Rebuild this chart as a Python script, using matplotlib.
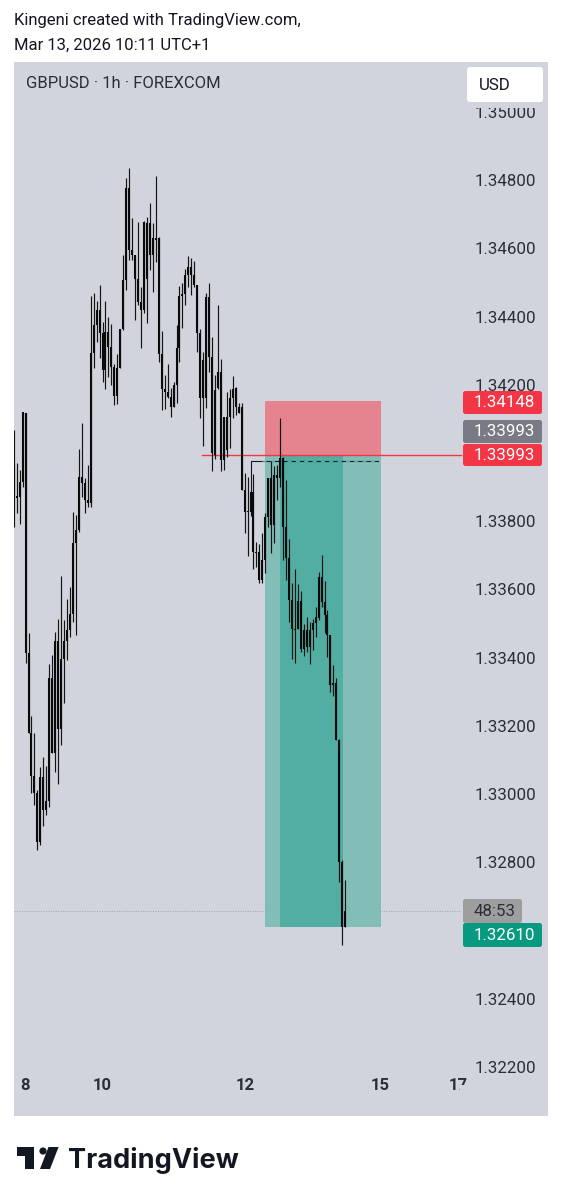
import numpy as np
import matplotlib
matplotlib.use('Agg')
import matplotlib.pyplot as plt
from matplotlib.patches import Rectangle, FancyBboxPatch, Polygon, Circle

plt.rcParams['font.family'] = ['Roboto', 'DejaVu Sans']

# GBPUSD 1h, precios en unidades de 0.00001
opens = [133964,133873,133870,133914,134117,133413,133178,133052,133002,132859,133049,132953,132979,133340,133120,133448,133190,133395,133448,133480,
         133527,133736,133774,133929,133911,133862,133853,134293,134375,134419,134351,134243,134354,134310,134252,134167,134249,134363,134507,134777,
         134595,134580,134510,134442,134419,134674,134674,134580,134630,134630,134290,134187,134178,134164,134134,134199,134307,134460,134466,134522,
         134545,134522,134492,134351,134161,134161,134457,134281,133994,134190,134237,133979,134105,134105,134161,134190,134134,134134,133891,133827,
         133827,133885,133709,133709,133627,133686,133812,133926,133788,133935,133926,133985,133782,133692,133568,133483,133483,133565,133425,133480,
         133431,133480,133501,133516,133636,133563,133524,133466,133319,133325,133158,132800,132610]
highs = [134067,133970,133950,134120,134117,133472,133228,133178,133011,133079,133108,133082,133381,133407,133475,133513,133639,133510,133571,133607,
         133827,133818,134011,134088,133926,133964,134460,134469,134445,134492,134384,134445,134398,134378,134260,134290,134363,134580,134806,134835,
         134689,134580,134677,134486,134680,134692,134733,134674,134812,134633,134357,134228,134260,134190,134208,134375,134489,134498,134539,134577,
         134571,134563,134492,134363,134296,134469,134498,134340,134228,134434,134275,134105,134178,134187,134225,134193,134146,134146,133941,133929,
         133891,133938,133739,133733,133765,133824,133926,133976,133961,133964,134102,133988,133920,133747,133618,133659,133615,133595,133498,133519,
         133504,133513,133548,133651,133700,133624,133539,133466,133378,133340,133161,132806,132747]
lows = [133782,133824,133791,133900,133384,133178,133002,132967,132835,132850,132906,132938,132961,133120,133064,133029,133143,133266,133392,133460,
        133504,133466,133768,133870,133824,133841,133841,134249,134325,134278,134208,134187,134222,134199,134140,134143,134249,134360,134477,134565,
        134565,134390,134434,134307,134410,134381,134536,134472,134560,134266,134125,134128,134161,134105,134134,134146,134266,134366,134434,134486,
        134463,134486,134296,134102,134020,134131,134237,133947,133982,134187,133947,133950,133988,134014,134102,134111,134117,133891,133765,133697,
        133815,133659,133665,133618,133618,133648,133782,133706,133736,133862,133900,133686,133627,133504,133395,133384,133483,133416,133404,133416,
        133381,133422,133460,133510,133548,133472,133401,133299,133287,133158,132741,132557,132610]
closes = [133876,133867,133914,134120,133413,133178,133052,133002,132859,133049,132953,132979,133340,133120,133448,133190,133395,133448,133480,133527,
          133736,133774,133929,133911,133862,133853,134293,134375,134419,134351,134243,134354,134310,134252,134167,134249,134363,134507,134777,134595,
          134580,134510,134442,134419,134677,134510,134580,134630,134624,134290,134187,134178,134164,134134,134199,134307,134460,134466,134522,134545,
          134522,134492,134351,134161,134272,134457,134281,133999,134184,134237,133979,134105,134008,134161,134187,134134,134117,133891,133827,133829,
          133885,133709,133706,133627,133686,133812,133926,133788,133935,133926,133985,133782,133692,133568,133483,133480,133565,133425,133480,133431,
          133480,133501,133519,133636,133563,133524,133466,133319,133325,133158,132800,132610,132656]

price_ticks = [1.35, 1.348, 1.346, 1.344, 1.342, 1.338, 1.336, 1.334, 1.332, 1.33, 1.328, 1.324, 1.322]
date_labels = ['8', '10', '12', '15', '17']
date_bars = [3.8, 29.8, 78.1, 123.8, 150.2]

entry = 1.33993
stop = 1.34148
box_top = 1.34153
target = 1.32610
last_price = 1.32656
order_price = 1.33977
box_start, box_end = 84.9, 124.1
range_start, range_end = 90, 111.3

o = np.array(opens) / 1e5
h = np.array(highs) / 1e5
l = np.array(lows) / 1e5
c = np.array(closes) / 1e5
bars = np.arange(len(o))

W, H = 562, 1200
PANEL = '#d1d4dc'
TEXT = '#2a2e39'
fig = plt.figure(figsize=(W / 100, H / 100), dpi=100, facecolor='white')

left, right, top, bottom = 14, 548, 62, 1116
ax = fig.add_axes([left / W, 1 - bottom / H, (right - left) / W, (bottom - top) / H])
ax.set_facecolor(PANEL)
for s in ax.spines.values():
    s.set_visible(False)
ax.set_xlim(0.09, 180.5)
ax.set_ylim(1.35 - (bottom - 112) * 2.9326e-5, 1.35 + (112 - top) * 2.9326e-5)

# eje de precios y fechas dentro del panel
ax.yaxis.tick_right()
ax.set_yticks(price_ticks)
ax.set_yticklabels([f'{p:.5f}' for p in price_ticks])
ax.tick_params(axis='y', length=0, pad=-52.6, labelsize=12.2, labelcolor=TEXT)
ax.set_xticks(date_bars)
ax.set_xticklabels(date_labels, fontweight='bold')
ax.tick_params(axis='x', length=0, pad=-27, labelsize=12, labelcolor=TEXT)

# caja de la posicion
ax.add_patch(Rectangle((box_start, entry), box_end - box_start, box_top - entry, fc='#e5838f', ec='none', zorder=2))
ax.add_patch(Rectangle((box_start, target), box_end - box_start, entry - target, fc='#82bdb8', ec='none', zorder=2))
ax.add_patch(Rectangle((range_start, target), range_end - range_start, entry - target, fc='#52aea3', ec='none', zorder=2.1))

ax.plot([0.09, 151], [last_price, last_price], color='#a0a3ab', lw=0.7, ls=(0, (1, 1.5)), zorder=1.8)
ax.plot([63.5, 151], [entry, entry], color='#f23645', lw=1.0, zorder=3)
ax.plot([80, 80, 123], [order_price - 0.00085, order_price, order_price], color='#131722', lw=0.8, zorder=3)
ax.plot([84, 123], [order_price, order_price], color='#52aea3', lw=1.0, ls=(0, (3, 3)), zorder=3.1)

# velas
ax.vlines(bars, l, h, color='#141414', lw=0.85, zorder=4)
ax.vlines(bars, np.minimum(o, c), np.maximum(o, c), color='#0a0a0a', lw=1.5, zorder=4.1)

# capa en pixeles para etiquetas y logo
ov = fig.add_axes([0, 0, 1, 1], facecolor='none')
ov.set_xlim(0, W)
ov.set_ylim(H, 0)
ov.axis('off')


def tag(x0, x1, y0, y1, color, text, tc='white', xt=535):
    ov.add_patch(FancyBboxPatch((x0, y0), x1 - x0, y1 - y0, boxstyle='round,pad=0,rounding_size=2.5',
                                fc=color, ec='none'))
    ov.text(xt, (y0 + y1) / 2 + 0.3, text, color=tc, fontsize=12.2, ha='right', va='center')


tag(463, 542, 391, 414, '#f23645', f'{stop:.5f}')
tag(463, 542, 420, 443, '#787b86', f'{entry:.5f}')
tag(463, 542, 444, 466, '#f23645', f'{entry:.5f}')
tag(463, 522, 899, 923, '#9e9e9e', '48:53', tc=TEXT, xt=516)
tag(463, 542, 923, 947, '#089981', f'{target:.5f}')

# recortes: el "17" y la parte alta de 1.35000
ov.add_patch(Rectangle((460, 1085), 30, 25, fc=PANEL, ec='none'))
ov.add_patch(Rectangle((470, 102), 70, 5.5, fc=PANEL, ec='none'))
ov.add_patch(FancyBboxPatch((467, 67), 76, 35, boxstyle='round,pad=0,rounding_size=3', fc='white', ec='none'))
ov.text(479, 85, 'USD', fontsize=12.2, color='#131722', va='center')

ov.text(14, 20.5, 'Kingeni created with TradingView.com,', fontsize=12, color='#131722', va='center')
ov.text(14, 45.5, 'Mar 13, 2026 10:11 UTC+1', fontsize=12, color='#131722', va='center')
ov.text(26, 83.5, 'GBPUSD · 1h · FOREXCOM', fontsize=12, color=TEXT, va='center')

# logo
ov.add_patch(Polygon([(17, 1147), (34, 1147), (34, 1169), (25, 1169), (25, 1156), (17, 1156)], fc='#131722', ec='none'))
ov.add_patch(Circle((43, 1151), 3.6, fc='#131722', ec='none'))
ov.add_patch(Polygon([(48.5, 1147), (58.6, 1147), (50, 1169), (40, 1169)], fc='#131722', ec='none'))
ov.text(68, 1168, 'TradingView', fontsize=19.5, fontweight='bold', family=['Inter', 'DejaVu Sans'], color='#131722', va='baseline')

fig.savefig('out.png', dpi=100)
